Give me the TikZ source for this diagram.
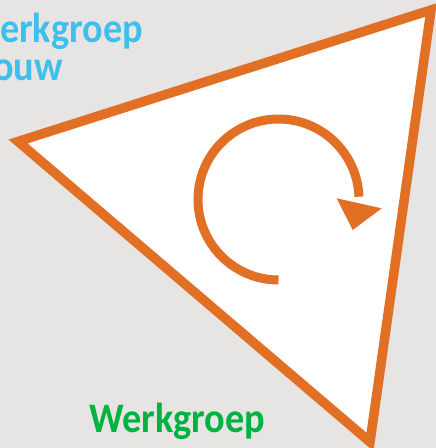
\documentclass[tikz,border=0pt]{standalone}
\usepackage{fontspec}
\setmainfont{Carlito}
\definecolor{bggray}{RGB}{230,229,227}
\definecolor{orng}{RGB}{226,112,36}
\definecolor{skyblue}{RGB}{64,190,236}
\definecolor{grn}{RGB}{0,178,64}
\tikzset{
  lbl/.style={inner sep=0pt, anchor=base west, xscale=0.91, font=\bfseries\fontsize{42}{42}\selectfont},
  tri/.style={draw=orng, fill=white, line width=9.5pt, line join=miter, miter limit=20},
  cyc/.style={draw=orng, line width=9pt, line cap=butt}
}
\begin{document}
\begin{tikzpicture}[x=1pt,y=-1pt]
  \fill[bggray] (0,0) rectangle (436,448);
  \useasboundingbox (0,0) rectangle (436,448);
  \begin{scope}
    \clip (0,0) rectangle (436,448);
    \node[lbl, text=skyblue] (t1) at (0,42) {erkgroep};
    \node[lbl, text=skyblue] (t2) at (-7,80) {ouw};
    \coordinate (A) at (18,141.5);
    \coordinate (B) at (431,10);
    \coordinate (C) at (370,442);
    \draw[tri] (A) -- (B) -- (C) -- cycle;
    \coordinate (O) at (278.5,199.5);
    \draw[cyc] (O) ++(90:80.5) arc[start angle=90, end angle=358, radius=80.5];
    \coordinate (H1) at (336.7,198.3);
    \coordinate (H2) at (381.7,208.3);
    \coordinate (H3) at (352.7,230);
    \fill[orng] (H1) -- (H2) -- (H3) -- cycle;
    \node[lbl, text=grn] (t3) at (89,432) {Werkgroep};
  \end{scope}
\end{tikzpicture}
\end{document}
